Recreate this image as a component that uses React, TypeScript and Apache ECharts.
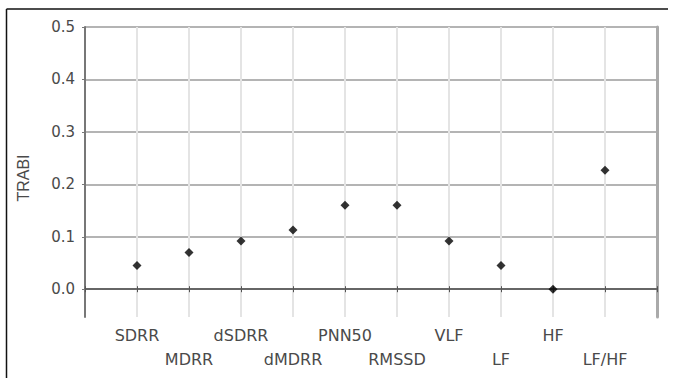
import React, { useEffect, useRef } from "react";
import * as echarts from "echarts";

const categories = ["SDRR", "MDRR", "dSDRR", "dMDRR", "PNN50", "RMSSD", "VLF", "LF", "HF", "LF/HF"];
const trabiValues = [0.045, 0.07, 0.092, 0.113, 0.16, 0.16, 0.092, 0.045, 0.0, 0.227];
const yTickValues = [0, 0.1, 0.2, 0.3, 0.4, 0.5];
const yMin = -0.053;
const yMax = 0.5;
const yAxisTitle = "TRABI";

export default function App() {
  const ref = useRef<HTMLDivElement>(null);

  useEffect(() => {
    if (!ref.current) return;
    const chart = echarts.init(ref.current, null, { renderer: "svg" });
    const axisData = ["", ...categories, ""];
    const seriesData = categories.map((c, i) => [c, trabiValues[i]]);
    const labelFont = "DejaVu Sans";

    chart.setOption({
      animation: false,
      backgroundColor: "#ffffff",
      grid: { left: 85, top: 27, right: 20, bottom: 61, containLabel: false },
      xAxis: [
        {
          type: "category",
          data: axisData,
          boundaryGap: false,
          position: "bottom",
          axisLine: { lineStyle: { color: "#777", width: 2 } },
          axisTick: { show: true, inside: true, length: 3, interval: 0, lineStyle: { color: "#555", width: 1 } },
          axisLabel: {
            interval: 0,
            margin: 6,
            color: "#4a4a4a",
            fontFamily: labelFont,
            fontSize: 16,
            lineHeight: 24,
            formatter: (v: string, idx: number) => (idx % 2 === 0 ? "\n" + v : v),
          },
          splitLine: { show: true, interval: 0, lineStyle: { color: "#e4e4e4", width: 2 } },
        },
        {
          type: "category",
          data: axisData,
          boundaryGap: false,
          position: "top",
          axisLine: { lineStyle: { color: "#666", width: 2 } },
          axisTick: { show: true, inside: true, length: 3, interval: 0, lineStyle: { color: "#555", width: 1 } },
          axisLabel: { show: false },
          splitLine: { show: false },
        },
      ],
      yAxis: [
        {
          type: "value",
          min: yMin,
          max: yMax,
          position: "left",
          axisLine: { show: true, lineStyle: { color: "#777", width: 2 } },
          axisTick: { show: true, inside: false, length: 3, customValues: yTickValues, lineStyle: { color: "#777", width: 1 } },
          axisLabel: {
            customValues: yTickValues,
            margin: 10,
            color: "#4a4a4a",
            fontFamily: labelFont,
            fontSize: 15,
            formatter: (v: number) => v.toFixed(1),
          },
          splitLine: { show: true, lineStyle: { color: "#b4b4b4", width: 2 } },
        },
        {
          type: "value",
          min: yMin,
          max: yMax,
          position: "right",
          axisLine: { show: true, lineStyle: { color: "#aaa", width: 3 } },
          axisTick: { show: false },
          axisLabel: { show: false },
          splitLine: { show: false },
        },
      ],
      graphic: [
        {
          type: "text",
          x: 23,
          y: 178,
          rotation: Math.PI / 2,
          style: {
            text: yAxisTitle,
            fill: "#4a4a4a",
            fontSize: 16,
            fontFamily: "Liberation Sans",
            align: "center",
            verticalAlign: "middle",
          },
        },
        {
          type: "line",
          shape: { x1: 6.5, y1: 9, x2: 668, y2: 9 },
          style: { stroke: "#111", lineWidth: 1.5 },
        },
        {
          type: "line",
          shape: { x1: 6.5, y1: 9, x2: 6.5, y2: 378 },
          style: { stroke: "#111", lineWidth: 1.5 },
        },
      ],
      series: [
        {
          type: "scatter",
          xAxisIndex: 0,
          yAxisIndex: 0,
          data: seriesData,
          symbol: "diamond",
          symbolSize: 9,
          itemStyle: { color: "#000" },
        },
      ],
    });

    return () => chart.dispose();
  }, []);

  return (
    <div
      ref={ref}
      style={{ position: "absolute", left: 0, top: 0, width: 677, height: 378 }}
    />
  );
}
